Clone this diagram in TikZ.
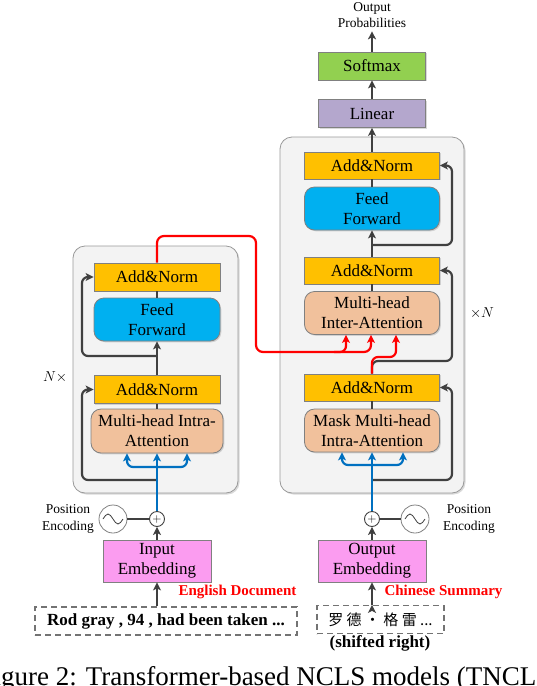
\documentclass[tikz,border=0pt]{standalone}
\usepackage{fontspec}
\setmainfont{Liberation Serif}
\newfontfamily\cjk{Noto Sans CJK SC}
\usetikzlibrary{positioning,arrows.meta,shadows}

\definecolor{annorm}{HTML}{FFC000}
\definecolor{ffblue}{HTML}{00B0F0}
\definecolor{attpeach}{HTML}{F1C19C}
\definecolor{smgreen}{HTML}{92D050}
\definecolor{linpurple}{HTML}{B4A7CD}
\definecolor{embpink}{HTML}{FB9CF0}
\definecolor{blockgray}{HTML}{F3F3F3}
\definecolor{arrgray}{HTML}{404040}
\definecolor{flowblue}{HTML}{0070C0}

\begin{document}
\begin{tikzpicture}[x=1pt,y=-1pt,on grid,
	font=\fontsize{17}{20}\selectfont,
	box/.style={draw=gray,line width=0.8pt,align=center,inner sep=1pt,
		drop shadow={shadow xshift=1.3pt,shadow yshift=-1.3pt,opacity=0.3}},
	addnorm/.style={box,fill=annorm,minimum width=135pt,minimum height=27pt},
	ffn/.style={box,fill=ffblue,rounded corners=10pt,minimum width=135pt,minimum height=43pt},
	attn/.style={box,fill=attpeach,rounded corners=10pt,minimum width=135pt,minimum height=43pt},
	headbox/.style={box,minimum width=107pt,minimum height=28pt},
	embed/.style={box,fill=embpink,minimum width=108pt,minimum height=42pt},
	enc/.style={minimum width=126pt},
	block/.style={draw=gray!80,fill=blockgray,line width=0.8pt,rounded corners=12pt,
		drop shadow={shadow xshift=1.5pt,shadow yshift=-1.5pt,opacity=0.3}},
	smalltxt/.style={align=center,font=\fontsize{13.5}{16.5}\selectfont},
	redlbl/.style={text=red,font=\fontsize{15}{18}\selectfont\bfseries},
	dashbox/.style={draw=gray!90!black,line width=1.3pt,dash pattern=on 6pt off 4pt,
		minimum height=28pt,font=\fontsize{17}{20}\selectfont\bfseries},
	plus/.style={circle,draw=arrgray,fill=white,line width=0.9pt,minimum size=15pt,inner sep=0pt,
		font=\fontsize{13}{13}\selectfont},
	sine/.style={circle,draw=gray,fill=white,line width=0.8pt,minimum size=28pt,
		path picture={\draw[line width=0.8pt,arrgray] (path picture bounding box.center)
			++(-10pt,0pt) sin ++(5pt,5pt) cos ++(5pt,-5pt) sin ++(5pt,-5pt) cos ++(5pt,5pt);}},
	lnk/.style={draw=arrgray,line width=2.2pt},
	arr/.style={lnk,-{Stealth[length=8pt,width=8pt,inset=2pt]}},
	flow/.style={draw=flowblue,line width=2.2pt},
	cross/.style={draw=red,line width=2.2pt,-{Stealth[length=8pt,width=8pt,inset=2pt]}}]

	\path[clip,use as bounding box] (0,0) rectangle (536,686);

	% encoder and decoder blocks
	\path[block] (73,246) rectangle (238,493);
	\path[block] (280,137) rectangle (464,493);

	% decoder
	\node[addnorm] (anD1) at (372,387.5) {Add\&Norm};
	\node[attn,below=43pt of anD1] (maskAtt) {Mask Multi-head\\Intra-Attention};
	\node[attn,above=74.5pt of anD1] (interAtt) {Multi-head\\Inter-Attention};
	\node[addnorm,above=42.5pt of interAtt] (anD2) {Add\&Norm};
	\node[ffn,above=62pt of anD2] (ffD) {Feed\\Forward};
	\node[addnorm,above=43pt of ffD] (anD3) {Add\&Norm};
	\node[headbox,fill=linpurple,above=52pt of anD3] (linear) {Linear};
	\node[headbox,fill=smgreen,above=47.5pt of linear] (softmax) {Softmax};
	\node[smalltxt,above=51pt of softmax] (outprob) {Output\\Probabilities};
	\node[font=\fontsize{15}{18}\selectfont] (nD) at (482,313) {$\times N$};

	% encoder
	\node[addnorm,enc,minimum height=28pt] (anE1) at (157,389.5) {Add\&Norm};
	\node[attn,minimum width=132pt,minimum height=44pt,below=41.5pt of anE1] (attE) {Multi-head Intra-\\Attention};
	\node[ffn,enc,above=70pt of anE1] (ffE) {Feed\\Forward};
	\node[addnorm,enc,minimum height=28pt,above=42.5pt of ffE] (anE2) {Add\&Norm};
	\node[font=\fontsize{15}{18}\selectfont] (nE) at (55,377) {$N\times$};

	% inputs
	\node[plus] (plusE) at (157,519) {$+$};
	\node[sine,left=44pt of plusE] (sinE) {};
	\node[smalltxt,left=45pt of sinE] (posE) {Position\\Encoding};
	\node[embed,below=42pt of plusE] (embE) {Input\\Embedding};
	\node[redlbl,anchor=west] (langE) at (175,592) {English Document};
	\node[dashbox,minimum width=262pt] (srcE) at (166,621) {Rod gray , 94 , had been taken ...};

	\node[plus] (plusD) at (372,519) {$+$};
	\node[sine,right=43pt of plusD] (sinD) {};
	\node[smalltxt,right=54pt of sinD] (posD) {Position\\Encoding};
	\node[embed,below=42pt of plusD] (embD) {Output\\Embedding};
	\node[redlbl,anchor=west] (langD) at (381,592) {Chinese Summary};
	\node[dashbox,minimum width=127pt,font=\fontsize{15}{18}\selectfont] (tgtD) at (380.5,619.5) {\cjk 罗 德 · 格 雷 ...};
	\node[font=\fontsize{17}{20}\selectfont\bfseries] (shifted) at (380,643) {(shifted right)};

	\node[anchor=base west,font=\fontsize{27}{30}\selectfont] (caption) at (-25,685)
		{Figure 2: Transformer-based NCLS models (TNCLS)};

	% plain links
	\path[lnk]
		(maskAtt) edge (anD1)
		(interAtt) edge (anD2)
		(ffD) edge (anD3)
		(attE) edge (anE1)
		(ffE) edge (anE2)
		(sinE) edge (plusE)
		(sinD) edge (plusD);

	% arrows
	\path[arr]
		(anD3) edge (linear)
		(linear) edge (softmax)
		(softmax) edge (outprob)
		(anD2) edge (ffD)
		(anE1) edge (ffE)
		(embE) edge (plusE)
		(embD) edge (plusD)
		(srcE.north -| embE) edge (embE)
		(tgtD.north -| embD) edge (embD);

	% residual connections
	\draw[arr,rounded corners=6pt] (anE1 |- 0,480) -- (82,480) |- (anE1.west);
	\draw[arr,rounded corners=6pt] (anE1 |- 0,356) -- (82,356) |- (anE2.west);
	\draw[arr,rounded corners=6pt] (anD1 |- 0,480) -- (452,480) |- (anD1.east);
	\draw[arr,rounded corners=6pt] (anD1.north) -- (372,361) -- (452,361) |- (anD2.east);
	\draw[arr,rounded corners=6pt] (anD2 |- 0,245) -- (452,245) |- (anD3.east);

	% embeddings into attention
	\draw[flow,-{Stealth[length=8pt,width=8pt,inset=2pt]}] (plusE) -- (attE);
	\draw[flow,{Stealth[length=8pt,width=8pt,inset=2pt]}-{Stealth[length=8pt,width=8pt,inset=2pt]},rounded corners=6pt]
		(attE.south -| 127,0) |- (attE |- 0,467) -| (attE.south -| 187,0);
	\draw[flow,-{Stealth[length=8pt,width=8pt,inset=2pt]}] (plusD) -- (maskAtt);
	\draw[flow,{Stealth[length=8pt,width=8pt,inset=2pt]}-{Stealth[length=8pt,width=8pt,inset=2pt]},rounded corners=6pt]
		(maskAtt.south -| 342,0) |- (maskAtt |- 0,465) -| (maskAtt.south -| 403,0);

	% encoder output into inter-attention
	\draw[cross,rounded corners=7pt] (anE2.north) |- (256,236) -- (256,352) -| (interAtt.south -| 371,0);
	\draw[cross,rounded corners=6pt] (334,352) -| (interAtt.south -| 346,0);
	\draw[cross,rounded corners=6pt] (anD1.north) -- (372,357) -| (interAtt.south -| 396,0);
\end{tikzpicture}
\end{document}
